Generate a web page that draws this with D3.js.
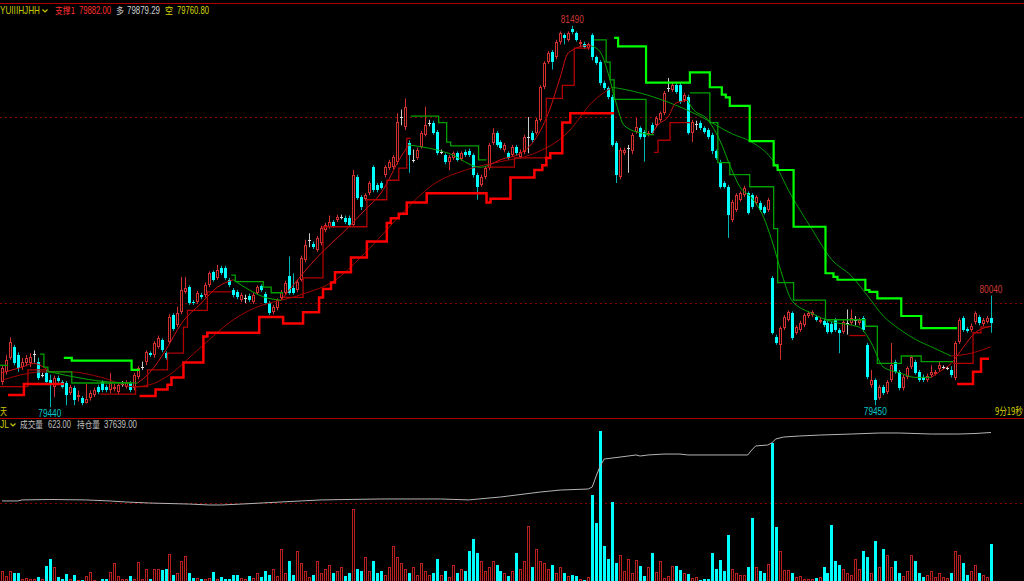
<!DOCTYPE html>
<html><head><meta charset="utf-8">
<script src="https://cdn.jsdelivr.net/npm/d3@7"></script>
<style>
body{margin:0;background:#000;overflow:hidden}
svg{display:block}
text{font-family:"Liberation Sans","DejaVu Sans",sans-serif}
.cjk{font-family:"Noto Sans CJK SC","Noto Sans",sans-serif}
</style>
</head><body>
<svg id="c" width="1024" height="581"></svg>
<script>
// ---------------- data ----------------
const open=[79575,79630,79705,79765,79720,79655,79680,79680,79725,79685,79615,79625,79585,79550,79595,79575,79570,79515,79545,79495,79490,79465,79490,79505,79550,79575,79550,79530,79540,79520,79565,79550,79570,79545,79600,79655,79685,79730,79720,79765,79800,79730,79790,79935,79880,79950,80060,80085,80005,80005,80045,80045,80095,80165,80135,80190,80190,80125,80070,80060,80015,80025,80040,80005,80055,80090,80050,80000,79950,79975,80025,80055,80145,80080,80070,80125,80230,80340,80315,80285,80325,80390,80410,80435,80445,80460,80455,80455,80420,80675,80570,80560,80590,80730,80635,80645,80690,80725,80730,80760,81000,80945,80860,80770,80780,80840,80905,80970,80970,80920,80810,80795,80760,80780,80805,80775,80810,80815,80795,80690,80635,80675,80725,80860,80915,80865,80825,80805,80795,80840,80785,80810,80895,80915,80915,80985,81160,81295,81350,81320,81405,81440,81415,81475,81450,81390,81395,81370,81440,81320,81295,81185,81155,81105,80860,80675,80805,80835,80815,80920,80940,80920,80905,80955,80955,80985,81020,81155,81145,81170,81170,81090,81105,80915,80960,80970,80940,80930,80905,80815,80760,80645,80625,80445,80500,80555,80580,80590,80580,80540,80540,80515,80500,80135,79815,79775,79865,79910,79945,79840,79855,79880,79930,79935,79925,79900,79905,79890,79885,79910,79855,79845,79890,79890,79910,79890,79920,79775,79560,79585,79490,79550,79520,79585,79685,79630,79545,79600,79655,79685,79630,79600,79585,79615,79620,79645,79655,79650,79640,79595,79790,79920,79860,79855,79900,79925,79885,79900,79920];
const high=[79665,79720,79815,79775,79735,79705,79720,79730,79745,79705,79625,79640,79615,79610,79610,79585,79580,79560,79555,79530,79500,79565,79530,79545,79560,79585,79560,79625,79565,79570,79580,79585,79580,79625,79660,79685,79745,79740,79795,79825,79810,79740,79940,79945,79980,80140,80140,80095,80015,80065,80055,80110,80170,80175,80205,80200,80200,80135,80080,80070,80055,80045,80050,80055,80095,80100,80060,80010,79990,80025,80070,80120,80250,80160,80125,80255,80340,80375,80330,80360,80415,80430,80470,80445,80475,80475,80470,80470,80715,80690,80580,80590,80655,80740,80645,80655,80740,80770,80795,81020,81040,81100,80875,80825,80835,80925,81055,80985,80980,80930,80825,80805,80795,80815,80815,80815,80825,80830,80805,80700,80690,80735,80860,80940,80925,80875,80860,80815,80850,80850,80825,80905,81000,80925,80995,81170,81300,81355,81360,81415,81460,81450,81460,81490,81460,81415,81405,81400,81450,81330,81305,81195,81165,81120,80870,80835,80835,80850,80915,80995,80950,80930,80925,80970,81005,81030,81140,81210,81185,81185,81185,81130,81120,80985,80980,80980,80950,80940,80915,80825,80770,80655,80635,80555,80590,80600,80630,80600,80590,80580,80550,80525,80565,80145,79830,79875,79935,79960,79955,79880,79905,79945,79955,79960,79935,79920,79915,79905,79900,79920,79865,79910,79965,79965,79930,79920,79930,79785,79640,79595,79560,79560,79585,79785,79695,79640,79615,79660,79720,79695,79640,79615,79620,79665,79640,79685,79665,79660,79660,79795,79920,79930,79870,79890,79955,79935,79920,79930,80040];
const low=[79560,79615,79695,79665,79630,79640,79660,79655,79680,79585,79600,79565,79440,79495,79570,79540,79450,79505,79450,79470,79450,79460,79475,79495,79510,79520,79520,79515,79525,79510,79550,79540,79520,79530,79590,79640,79665,79710,79705,79755,79735,79695,79780,79850,79870,79940,80050,79990,79990,79995,80020,80030,80085,80115,80125,80150,80125,80085,80030,80020,80005,80000,80005,79995,80045,80060,79990,79935,79940,79960,80015,80045,80045,80045,80060,80115,80220,80300,80290,80275,80310,80380,80400,80405,80435,80450,80425,80410,80410,80555,80500,80550,80580,80595,80595,80610,80675,80715,80720,80745,80955,80930,80700,80755,80770,80830,80895,80950,80905,80795,80800,80745,80715,80770,80760,80765,80785,80785,80675,80555,80625,80665,80715,80850,80840,80825,80810,80770,80785,80795,80775,80800,80805,80865,80905,80975,81150,81285,81255,81310,81390,81390,81405,81445,81405,81375,81365,81360,81305,81280,81170,81145,81095,80840,80645,80665,80795,80700,80800,80910,80880,80760,80895,80905,80945,80975,81010,81135,81135,81125,81070,81080,80905,80865,80930,80930,80910,80880,80800,80770,80615,80615,80350,80435,80490,80545,80570,80475,80505,80525,80490,80475,80490,79830,79775,79695,79855,79900,79800,79830,79845,79870,79920,79925,79900,79890,79870,79835,79835,79845,79730,79835,79830,79880,79880,79880,79845,79590,79545,79450,79480,79505,79510,79575,79620,79530,79530,79590,79645,79615,79575,79575,79575,79600,79610,79635,79645,79640,79600,79585,79780,79845,79840,79845,79885,79880,79875,79890,79840];
const close=[79650,79695,79790,79680,79650,79685,79705,79710,79725,79595,79615,79575,79570,79595,79580,79550,79505,79550,79480,79505,79465,79485,79515,79530,79520,79530,79530,79570,79550,79560,79565,79575,79530,79615,79650,79655,79735,79720,79785,79810,79745,79705,79925,79860,79945,80070,80080,80000,80000,80055,80030,80095,80160,80125,80175,80160,80135,80095,80045,80030,80045,80025,80015,80045,80085,80070,80000,79945,79980,80015,80060,80110,80055,80055,80115,80240,80310,80340,80300,80350,80405,80420,80435,80415,80460,80460,80435,80420,80690,80565,80515,80580,80645,80610,80610,80620,80730,80760,80785,80975,81000,81055,80795,80770,80825,80915,80955,80970,80915,80805,80810,80760,80785,80805,80770,80805,80795,80795,80690,80625,80675,80725,80850,80915,80850,80835,80850,80780,80840,80805,80810,80895,80895,80875,80985,81160,81290,81345,81295,81405,81450,81425,81450,81455,81415,81405,81375,81390,81320,81290,81185,81155,81105,80850,80690,80825,80825,80835,80905,80945,80895,80895,80915,80915,80995,81020,81130,81155,81170,81135,81080,81120,80915,80975,80960,80940,80920,80895,80815,80780,80625,80625,80475,80545,80580,80590,80620,80485,80515,80570,80500,80485,80555,79840,79785,79865,79925,79950,79810,79870,79890,79935,79945,79950,79910,79910,79880,79845,79845,79855,79840,79900,79890,79920,79910,79910,79855,79600,79585,79480,79550,79515,79575,79665,79630,79545,79600,79650,79710,79625,79585,79585,79610,79630,79630,79665,79655,79650,79615,79785,79910,79855,79850,79875,79945,79890,79910,79920,79890];
const volume=[64,30,62,51,51,15,20,15,15,25,15,95,140,90,25,15,45,10,40,5,5,30,55,5,3,10,10,60,115,30,10,10,30,10,120,10,75,10,80,75,70,75,170,40,50,130,160,50,20,20,10,15,20,55,10,25,10,10,40,40,20,15,30,20,50,25,65,40,75,30,205,50,130,40,190,115,65,25,40,130,50,75,100,50,65,90,30,50,460,75,65,155,65,130,50,65,40,90,225,155,115,75,50,90,40,115,65,40,50,140,40,65,25,100,50,75,65,190,270,180,130,65,90,130,100,65,50,30,65,180,75,130,350,90,205,130,115,75,100,50,90,50,32,38,32,13,6,26,550,372,960,225,140,505,115,165,64,140,50,135,96,32,90,180,58,128,19,32,96,96,70,51,45,19,26,6,13,13,180,77,135,64,295,77,51,38,38,90,405,90,64,51,109,885,345,190,70,70,51,26,32,13,13,10,20,25,90,50,360,130,100,75,50,40,140,75,190,155,50,255,90,205,165,90,130,50,30,65,165,130,50,25,40,65,25,50,25,20,50,190,165,115,40,65,100,50,40,25,235];
// open interest, sampled [bar index, contracts]
const openInterest=[[0,34340],[4,34340],[5,34390],[12,34410],[21,34390],[27,34340],[31,34290],[37,34240],[47,34190],[52,34145],[55,34145],[60,34190],[70,34290],[80,34390],[95,34435],[110,34435],[117,34390],[125,34530],[135,34770],[140,34865],[147,34915],[148,35010],[149,35540],[150,36025],[151,36360],[155,36455],[157,36505],[159,36555],[160,36505],[162,36555],[166,36600],[170,36600],[172,36555],[187,36555],[188,36795],[189,36990],[192,37035],[193,37130],[194,37325],[196,37420],[200,37470],[205,37515],[213,37565],[220,37615],[225,37615],[233,37565],[240,37565],[244,37590],[248,37639]];
// step levels [bar index, price]
const resistThick=[[[16,79705],[18,79690],[33,79640],[35,79640]],[[154,81425],[155,81380],[162,81185],[173,81240],[178,81160],[181,81120],[182,81105],[183,81060],[188,80870],[194,80740],[195,80715],[199,80410],[207,80160],[209,80140],[210,80125],[217,80070],[218,80060],[220,80025],[226,79930],[231,79865],[240,79865]]];
const supportThick=[[[2,79505],[6,79565],[16,79565]],[[35,79500],[39,79535],[42,79560],[43,79600],[46,79680],[51,79820],[52,79840],[65,79925],[71,79890],[76,79950],[80,80030],[81,80075],[83,80110],[84,80165],[88,80245],[92,80330],[97,80430],[98,80455],[100,80480],[102,80540],[107,80590],[122,80540],[123,80560],[128,80675],[134,80715],[136,80740],[137,80780],[138,80805],[141,80970],[143,81020],[154,81020]],[[240,79565],[244,79630],[246,79700],[248,79700]]];
const resistThin=[[[0,79665],[2,79665]],[[10,79725],[11,79655],[12,79630],[18,79570],[33,79570]],[[58,80150],[59,80115],[66,80085],[68,80055],[71,80055]],[[103,81005],[110,80970],[112,80865],[113,80845],[120,80770],[122,80770]],[[149,81415],[152,81295],[153,81200],[154,81095],[162,80905],[164,80905]],[[173,81130],[178,80970],[180,80755],[183,80690],[188,80625],[194,80400],[195,80110],[199,80015],[207,79910],[217,79875],[220,79675],[226,79715],[231,79685],[239,79685]]];
const supportThin=[[[0,79550],[7,79640],[12,79640]],[[25,79510],[34,79550],[37,79640],[42,79730],[46,79870],[47,79960],[52,80060],[58,80060]],[[71,80030],[76,80135],[81,80410],[92,80555],[97,80660],[100,80725],[102,80885],[103,80885]],[[122,80730],[129,80780],[137,81100],[141,81170],[144,81370],[148,81370]],[[164,80810],[165,80875],[168,80970],[173,80970]],[[213,79825],[217,79825]],[[239,79675],[244,79840],[246,79870],[248,79870]]];
// moving averages [bar index, price]
const fastUp=[[[0,79625],[5,79655],[8,79675],[12,79630]],[[34,79570],[37,79625],[41,79745],[45,79890],[50,80000],[54,80085],[58,80125]],[[70,80015],[79,80245],[87,80410],[91,80500],[95,80590],[100,80785],[102,80850]],[[122,80740],[125,80770],[130,80805],[133,80860],[137,81020],[140,81215],[142,81345],[147,81385],[148,81380]],[[163,80905],[164,80945],[167,81000],[169,81075],[172,81090]],[[233,79600],[235,79630],[238,79675],[241,79760],[244,79840],[248,79875]]];
const fastDown=[[[12,79630],[20,79595],[27,79575],[34,79570]],[[58,80125],[62,80070],[66,80030],[70,80015]],[[102,80850],[112,80805],[120,80730],[122,80740]],[[148,81380],[150,81350],[152,81235],[154,81075],[156,80955],[160,80915],[163,80905]],[[172,81090],[173,81050],[177,80985],[180,80875],[183,80715],[185,80625],[188,80565],[191,80460],[193,80340],[196,80125],[198,80015],[203,79945],[208,79900],[215,79870],[218,79785],[221,79655],[225,79625],[229,79600],[233,79600]]];
const slowUp=[[[0,79585],[5,79615],[10,79630],[17,79630],[25,79600],[33,79550],[37,79560],[41,79600],[50,79765],[58,79910],[62,79960],[75,80045],[83,80115],[92,80290],[100,80475],[108,80635],[117,80720],[125,80760],[133,80800],[142,80920],[148,81080],[153,81160]],[[238,79715],[242,79725],[248,79765]]];
const slowDown=[[[153,81160],[158,81140],[167,81080],[175,81005],[183,80910],[188,80865],[193,80775],[198,80575],[203,80400],[208,80235],[213,80145],[217,80040],[221,79930],[225,79860],[229,79805],[234,79755],[238,79715]]];
const priceGrid=[80000,81000];
const volumeGrid=[500];
const extremeMarks=[[143,"high"],[12,"low"],[219,"low"],[248,"high"]];
const headerItems=[["YUIIIHJHH","#c8c800",0,40],["支撑1","#ff3030",55,20],["79882.00","#ff3030",79,32],["多","#d0d0d0",116,8],["79879.29","#d0d0d0",127,33],["空","#d8d800",165,8],["79760.80","#d8d800",177,32]];
const volHeaderItems=[["JL","#c8c800",0,9],["成交量","#c0c0c0",20,23],["623.00","#c0c0c0",48,23],["持仓量","#c0c0c0",77,23],["37639.00","#c0c0c0",104,33]];
const footItems=[["天","#c8c800",0,7],["9分19秒","#d8d800",995,28]];
const chevrons=[[45,9.5,"#c8c800"],[13,423.5,"#c8c800"]];

// ---------------- drawing ----------------
const svg=d3.select("#c");
const N=open.length;
const x=d3.scaleLinear().domain([0,N-1]).range([2,991]);
const y=d3.scaleLinear().domain([80000,81000]).range([303,117]);
const yv=d3.scaleLinear().domain([0,1000]).range([581,425]);
const yo=d3.scaleLinear().domain([34000,38000]).range([508,425]);
const cx=i=>Math.round(x(i));
const xe=i=>x(i)-2;

// text squeezed horizontally to a measured width (anchor: "start" or "middle")
function fitText(parent,str,x0,y0,w,size,color,cls,anchor){
  const t=parent.append("text").attr("class",cls||null).attr("font-size",size).attr("fill",color).text(str);
  const len=t.node().getComputedTextLength()||w;
  const s=Math.min(1.2,w/len);
  const left=anchor==="middle"?x0-w/2:x0;
  t.attr("transform",`translate(${left},${y0}) scale(${s},1)`);
  return t;
}

svg.append("rect").attr("width",1024).attr("height",581).attr("fill","#000");
const defs=svg.append("defs");
defs.append("clipPath").attr("id","mainClip").append("rect").attr("x",0).attr("y",4).attr("width",1024).attr("height",414);
defs.append("clipPath").attr("id","volClip").append("rect").attr("x",0).attr("y",419).attr("width",1024).attr("height",162);

svg.append("line").attr("x1",0).attr("x2",1024).attr("y1",3.5).attr("y2",3.5).attr("stroke","#b00000").attr("stroke-width",1);

const main=svg.append("g").attr("clip-path","url(#mainClip)");
main.selectAll("line.grid").data(priceGrid).join("line")
  .attr("x1",0).attr("x2",1024).attr("y1",d=>Math.round(y(d))+0.5).attr("y2",d=>Math.round(y(d))+0.5)
  .attr("stroke","#8a0000").attr("stroke-dasharray","2,3");

// candles
const cg=main.append("g");
for(let i=0;i<N;i++){
  const o=open[i],c=close[i],h=high[i],l=low[i];
  const X=cx(i);
  const top=Math.round(y(Math.max(o,c))), bot=Math.round(y(Math.min(o,c)));
  if(c>o){
    cg.append("line").attr("x1",X+0.5).attr("x2",X+0.5).attr("y1",y(h)).attr("y2",top).attr("stroke","#d03030");
    cg.append("line").attr("x1",X+0.5).attr("x2",X+0.5).attr("y1",bot).attr("y2",y(l)).attr("stroke","#d03030");
    cg.append("rect").attr("x",X-0.5).attr("y",top+0.5).attr("width",2).attr("height",Math.max(1,bot-top-1)).attr("fill","#000").attr("stroke","#d03030");
  }else if(c<o){
    cg.append("line").attr("x1",X+0.5).attr("x2",X+0.5).attr("y1",y(h)).attr("y2",y(l)).attr("stroke","#00b4b4");
    cg.append("rect").attr("x",X-1).attr("y",top).attr("width",3).attr("height",Math.max(1,bot-top)).attr("fill","#00ffff");
  }else{
    cg.append("line").attr("x1",X+0.5).attr("x2",X+0.5).attr("y1",y(h)).attr("y2",y(l)).attr("stroke","#c8c8c8");
    cg.append("line").attr("x1",X-1).attr("x2",X+2).attr("y1",top+0.5).attr("y2",top+0.5).attr("stroke","#e0e0e0");
  }
}

const stepLine=d3.line().x(d=>xe(d[0])).y(d=>y(d[1])).curve(d3.curveStepAfter);
const smooth=d3.line().x(d=>x(d[0])).y(d=>y(d[1])).curve(d3.curveMonotoneX);
function drawSet(sets,gen,color,w){
  main.append("g").selectAll("path").data(sets).join("path")
    .attr("d",gen).attr("fill","none").attr("stroke",color).attr("stroke-width",w);
}
drawSet(slowUp,smooth,"#a00000",1);
drawSet(slowDown,smooth,"#009a00",1);
drawSet(fastUp,smooth,"#d01010",1);
drawSet(fastDown,smooth,"#00a800",1);
drawSet(supportThin,stepLine,"#b00000",1.3);
drawSet(resistThin,stepLine,"#00a000",1.3);
drawSet(supportThick,stepLine,"#ff0000",2.5);
drawSet(resistThick,stepLine,"#00ff00",2.2);

// extreme labels
extremeMarks.forEach(([i,kind])=>{
  const isHigh=kind==="high";
  const v=isHigh?high[i]:low[i];
  fitText(main,String(v),x(i),isHigh?y(v)-3:y(v)+9.5,23,10,isHigh?"#d03838":"#00c8c8",null,"middle");
});
footItems.forEach(([t,col,x0,w])=>fitText(svg,t,x0,415,w,10,col,"cjk","start"));

// header
headerItems.forEach(([t,col,x0,w])=>{
  const cj=/[^\x00-\x7f]/.test(t);
  fitText(svg,t,x0,13.5,w,cj?9:10,col,cj?"cjk":null,"start");
});
svg.selectAll("path.chev").data(chevrons).join("path").attr("class","chev")
  .attr("d",d=>`M${d[0]-2.5},${d[1]} L${d[0]},${d[1]+2.5} L${d[0]+2.5},${d[1]}`)
  .attr("fill","none").attr("stroke",d=>d[2]).attr("stroke-width",1.2);

// separator
svg.append("line").attr("x1",0).attr("x2",1024).attr("y1",418.5).attr("y2",418.5).attr("stroke","#b00000");

// volume panel
const vol=svg.append("g").attr("clip-path","url(#volClip)");
vol.selectAll("line.vgrid").data(volumeGrid).join("line")
  .attr("x1",0).attr("x2",1024).attr("y1",d=>Math.round(yv(d))+0.5).attr("y2",d=>Math.round(yv(d))+0.5)
  .attr("stroke","#8a0000").attr("stroke-dasharray","2,3");
for(let i=0;i<N;i++){
  const X=cx(i), t=Math.round(yv(volume[i]));
  if(close[i]<open[i]){
    vol.append("rect").attr("x",X-1).attr("y",t).attr("width",3).attr("height",Math.max(1,581-t)).attr("fill","#00ffff");
  }else{
    vol.append("rect").attr("x",X-0.5).attr("y",t+0.5).attr("width",2).attr("height",Math.max(1,581-t)).attr("fill","#000").attr("stroke","#b82020");
  }
}
vol.append("path").datum(openInterest)
  .attr("d",d3.line().x(d=>x(d[0])).y(d=>yo(d[1])))
  .attr("fill","none").attr("stroke","#b4b4b4").attr("stroke-width",1);
volHeaderItems.forEach(([t,col,x0,w])=>{
  const cj=/[^\x00-\x7f]/.test(t);
  fitText(svg,t,x0,428,w,cj?9:10,col,cj?"cjk":null,"start");
});
</script>
</body></html>
